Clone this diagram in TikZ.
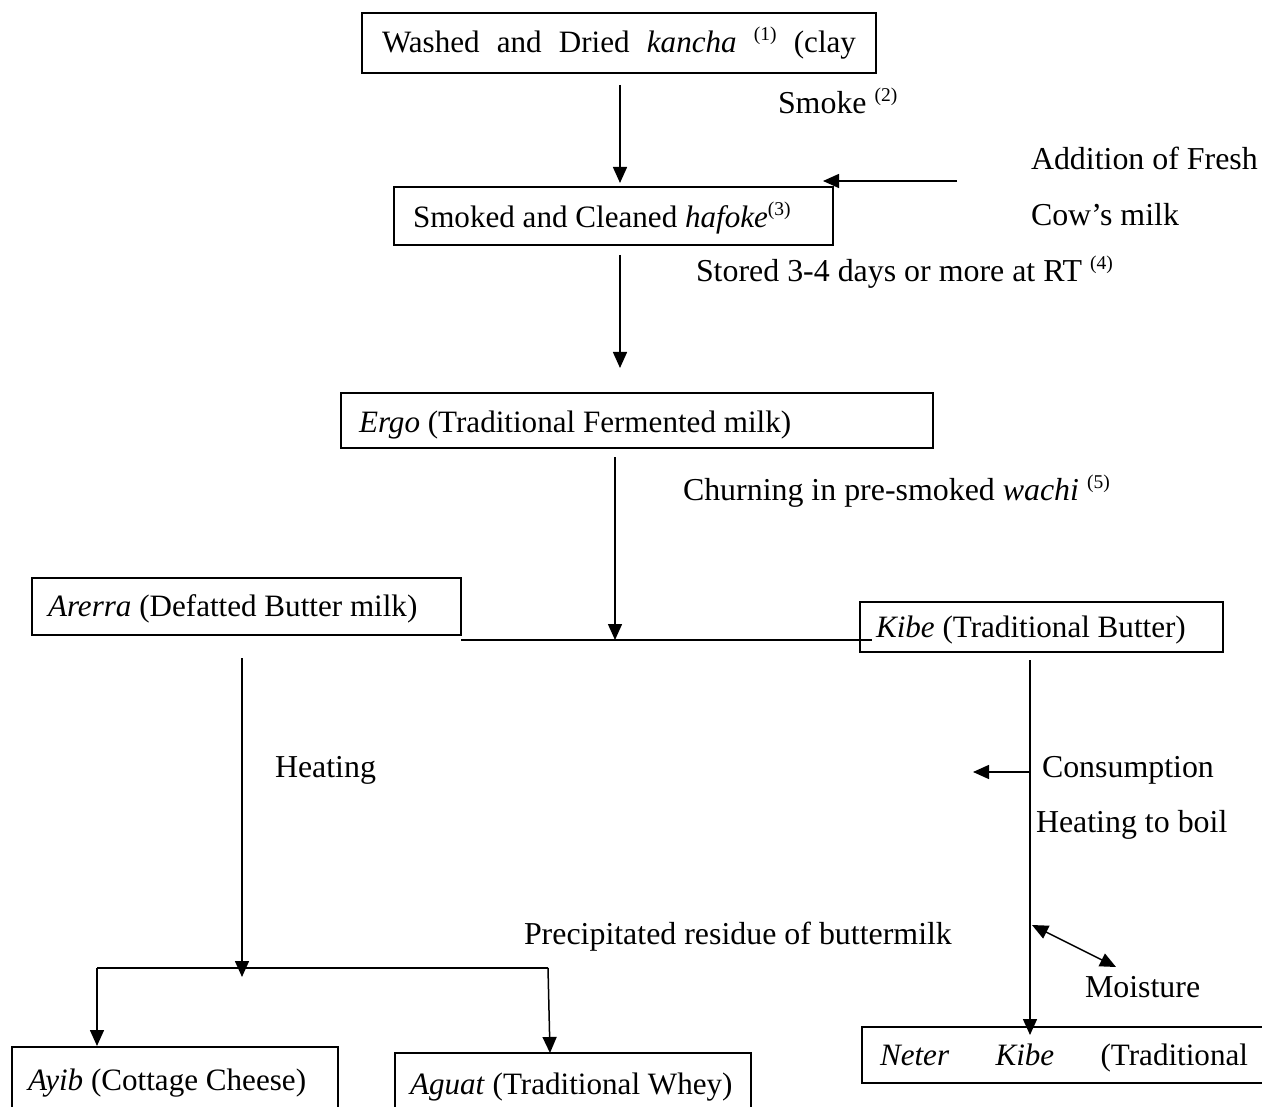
\documentclass[tikz,border=0pt]{standalone}
\usepackage{fontspec}
\setmainfont{Liberation Serif}
\usetikzlibrary{arrows.meta,calc}
\newcommand{\sups}[1]{\raisebox{12pt}{\fontsize{19.5}{20}\selectfont #1}}
\tikzset{
  box/.style={draw, line width=1.8pt, inner sep=0pt, outer sep=0pt, anchor=north west},
  txt/.style={inner sep=0pt, outer sep=0pt, anchor=base west, font=\fontsize{31.1}{36}\selectfont},
  lbl/.style={inner sep=0pt, outer sep=0pt, anchor=base west, font=\fontsize{31.9}{36}\selectfont},
  arr/.style={line width=1.5pt, -{Triangle[length=16pt,width=14pt]}},
  darr/.style={line width=1.5pt, {Triangle[length=16pt,width=14pt]}-{Triangle[length=16pt,width=14pt]}},
  ln/.style={line width=1.5pt}
}
\begin{document}
\begin{tikzpicture}[x=1pt,y=-1pt]
\useasboundingbox (0,0) rectangle (1262,1107);
% boxes
\node[box, minimum width=514pt, minimum height=60pt] (b1) at (362,13) {};
\node[box, minimum width=439pt, minimum height=58pt] (b2) at (394,187) {};
\node[box, minimum width=592pt, minimum height=55pt] (b3) at (341,393) {};
\node[box, minimum width=429pt, minimum height=57pt] (bA) at (32,578) {};
\node[box, minimum width=363pt, minimum height=50pt] (bK) at (860,602) {};
\node[box, minimum width=326pt, minimum height=100pt] (bAy) at (12,1047) {};
\node[box, minimum width=356pt, minimum height=100pt] (bAg) at (395,1053) {};
\node[box, minimum width=450pt, minimum height=56pt] (bN) at (862,1027) {};
% box texts
\node[txt] (t1) at (382,53) {\makebox[474pt][s]{Washed and Dried \textit{kancha} \sups{(1)} (clay}};
\node[txt] (t2) at (413,228) {Smoked and Cleaned \textit{hafoke}\sups{(3)}};
\node[txt] (t3) at (359,432) {\textit{Ergo} (Traditional Fermented milk)};
\node[txt] (tA) at (48,616) {\textit{Arerra} (Defatted Butter milk)};
\node[txt] (tK) at (876,637) {\textit{Kibe} (Traditional Butter)};
\node[txt] (tAy) at (28,1090) {\textit{Ayib} (Cottage Cheese)};
\node[txt] (tAg) at (410,1094) {\textit{Aguat} (Traditional Whey)};
\node[txt] (tN) at (880,1065) {\makebox[368pt][s]{\textit{Neter} \textit{Kibe} (Traditional}};
% labels
\node[lbl] (lSmoke) at (778,114) {Smoke \sups{(2)}};
\node[lbl] (lAdd) at (1031,170) {Addition of Fresh};
\node[lbl] (lCow) at (1031,226) {Cow’s milk};
\node[lbl] (lStore) at (696,282) {Stored 3-4 days or more at RT \sups{(4)}};
\node[lbl] (lChurn) at (683,500) {Churning in pre-smoked \textit{wachi} \sups{(5)}};
\node[lbl] (lHeat) at (275,777) {Heating};
\node[lbl] (lCons) at (1042,777) {Consumption};
\node[lbl] (lBoil) at (1036,832) {Heating to boil};
\node[lbl] (lPrec) at (524,944) {Precipitated residue of buttermilk};
\node[lbl] (lMoist) at (1085,997) {Moisture};
% coordinates
\coordinate (milk) at (957,181);
\coordinate (jn) at (615,640);
\coordinate (br) at (242,968);
\coordinate (brL) at (97,968);
\coordinate (brR) at (548,968);
\coordinate (cons) at (1030,772);
\coordinate (consE) at (973,772);
\coordinate (m1) at (1032,925);
\coordinate (m2) at (1116,967);
% connectors
\draw[arr] ($(b1.south)+(1,12)$) -- ($(b1.south |- b2.north)+(1,-4)$);
\draw[arr] (milk) -- ($(b2.north east)+(-10,-6)$);
\draw[arr] ($(b1.south |- b2.south)+(1,10)$) -- ($(b1.south |- b3.north)+(1,-25)$);
\draw[arr] ($(jn |- b3.south)+(0,9)$) -- (jn);
\draw[ln] ($(bA.south east)+(0,5)$) -- ($(bK.west)+(12,13)$);
\draw[arr] ($(bA.south)+(-4.5,23)$) -- ($(br)+(0,9)$);
\draw[ln] (brL) -- (brR);
\draw[arr] (brL) -- ($(brL |- bAy.north)+(0,-1)$);
\draw[arr] (brR) -- ($(bAg.north west)+(155,0)$);
\draw[arr] ($(bK.south)+(-11.5,8)$) -- ($(bK.south |- bN.north)+(-11.5,8)$);
\draw[arr] (cons) -- (consE);
\draw[darr] (m1) -- (m2);
\end{tikzpicture}
\end{document}
